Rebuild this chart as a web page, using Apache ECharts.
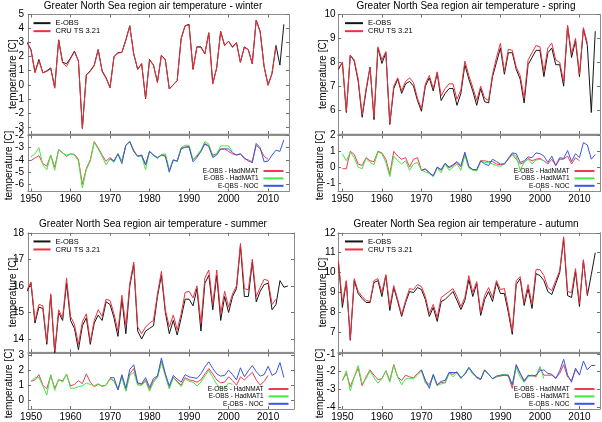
<!DOCTYPE html>
<html><head><meta charset="utf-8">
<script src="https://cdn.jsdelivr.net/npm/echarts@6/dist/echarts.min.js"></script>
<style>html,body{margin:0;padding:0;background:#fff}#c{width:602px;height:422px}</style>
</head><body><div id="c"></div>
<script>
// ---------------- DATA ----------------
const xTickYears = [1950, 1960, 1970, 1980, 1990, 2000, 2010];
const titles = [
  'Greater North Sea region air temperature - winter',
  'Greater North Sea region air temperature - spring',
  'Greater North Sea region air temperature - summer',
  'Greater North Sea region air temperature - autumn'
];
const upperNames = ['E-OBS', 'CRU TS 3.21'];
const lowerNames = ['E-OBS - HadNMAT', 'E-OBS - HadMAT1', 'E-OBS - NOC'];
const yAxisName = 'temperature [C]';

// start years
const eobsStart = 1949, cruStart = 1949, nmatStart = 1950, mat1Start = 1950, nocStart = 1970;

// upper tick labels
const winterUpperTicks = [-3, -2, -1, 0, 1, 2, 3, 4, 5];
const springUpperTicks = [6, 7, 8, 9, 10];
const summerUpperTicks = [14, 15, 16, 17, 18];
const autumnUpperTicks = [7, 8, 9, 10, 11, 12];
// lower tick labels
const winterLowerTicks = [-6, -5, -4, -3, -2];
const springLowerTicks = [-1, 0, 1, 2];
const summerLowerTicks = [0, 1, 2, 3];
const autumnLowerTicks = [-4, -3, -2, -1];

// WINTER
const winterEOBS = [3.0, 2.5, 0.9, 1.8, 0.85, 1.0, 1.2, -0.2, 3.2, 1.6, 1.5, 1.9, 2.4, 1.7, -3.1, 0.7, 1.0, 1.4, 2.5, 1.0, 0.5, -0.2, 2.0, 2.3, 2.3, 3.2, 4.2, 2.2, 1.1, 1.5, -1.0, 1.8, 1.4, 0.2, 2.1, 1.8, -0.3, 0.0, 0.3, 3.3, 4.2, 4.3, 1.1, 2.7, 2.7, 2.2, 3.7, 0.1, 1.2, 3.8, 2.8, 3.1, 2.7, 3.0, 1.6, 2.7, 2.5, 1.5, 4.6, 3.8, 1.3, 0.0, 0.8, 2.8, 1.4, 4.3];
const winterCRU = [3.05, 2.45, 0.85, 1.7, 0.85, 0.95, 1.15, -0.25, 3.15, 1.55, 1.3, 1.85, 2.35, 1.7, -3.1, 0.7, 0.95, 1.35, 2.5, 0.95, 0.45, -0.2, 1.95, 2.25, 2.3, 3.15, 4.15, 2.2, 1.1, 1.5, -0.95, 1.75, 1.4, 0.15, 2.1, 1.75, -0.3, 0.0, 0.3, 3.25, 4.2, 4.25, 1.1, 2.7, 2.65, 2.2, 3.7, 0.05, 1.2, 3.8, 2.8, 3.1, 2.65, 3.0, 1.6, 2.65, 2.5, 1.5, 4.6, 3.75, 1.3, -0.05, 0.8, 2.75];
const winterHadNMAT = [-4.05, -3.85, -3.65, -4.3, -4.5, -3.6, -4.6, -3.15, -3.4, -3.7, -3.5, -3.55, -3.95, -6.0, -4.7, -4.0, -2.5, -3.0, -3.6, -4.1, -3.8, -4.1, -3.5, -4.1, -2.8, -2.5, -3.2, -3.7, -3.6, -4.4, -3.3, -3.6, -3.85, -3.6, -3.6, -4.85, -4.0, -4.1, -3.05, -2.95, -2.9, -4.0, -3.7, -3.3, -2.65, -2.85, -3.6, -3.5, -3.1, -3.1, -3.3, -3.5, -3.6, -3.5, -3.8, -4.1, -4.1, -2.8, -3.1, -3.7, -3.95];
const winterHadMAT1 = [-3.75, -3.5, -3.0, -4.4, -4.8, -3.6, -4.85, -3.15, -3.45, -3.6, -3.5, -3.6, -4.1, -6.3, -4.8, -4.1, -2.55, -3.1, -3.7, -4.4, -3.9, -4.2, -3.5, -4.1, -2.8, -2.45, -3.3, -3.7, -3.7, -4.8, -3.3, -3.6, -3.9, -3.55, -3.5, -4.85, -4.0, -4.1, -3.0, -2.8, -2.8, -4.0, -3.6, -3.2, -2.5, -2.7, -3.7, -3.5, -2.85, -2.85, -2.85, -3.3];
const winterNOC = [-3.9, -4.1, -3.5, -4.3, -2.8, -2.5, -3.3, -3.7, -3.6, -4.4, -3.3, -3.6, -3.8, -3.6, -3.7, -5.0, -4.0, -4.1, -3.1, -2.95, -2.95, -4.15, -3.8, -3.3, -2.7, -2.9, -3.8, -3.6, -3.1, -3.1, -3.1, -3.4, -3.6, -3.5, -3.9, -4.0, -4.25, -2.65, -3.0, -4.15, -4.1, -3.6, -3.2, -3.3, -2.35];

// SPRING
const springEOBS = [7.7, 8.0, 5.9, 8.3, 8.05, 7.2, 5.7, 6.8, 7.8, 5.6, 8.6, 7.95, 8.4, 5.4, 6.9, 7.3, 6.7, 7.1, 7.2, 7.0, 6.4, 5.95, 7.0, 7.35, 6.8, 7.55, 6.4, 6.7, 6.9, 6.9, 6.2, 6.7, 7.9, 7.3, 6.8, 6.2, 6.9, 6.35, 6.3, 7.4, 8.0, 8.6, 7.5, 8.4, 8.4, 7.7, 7.3, 6.3, 7.9, 8.2, 8.5, 8.5, 7.4, 8.4, 8.6, 7.9, 7.9, 7.0, 9.5, 8.2, 8.9, 7.4, 9.4, 8.7, 5.9, 9.3];
const springCRU = [7.75, 8.0, 5.95, 8.3, 8.1, 7.3, 5.8, 6.9, 7.8, 5.7, 8.65, 8.1, 8.45, 5.45, 7.0, 7.35, 6.8, 7.2, 7.35, 7.15, 6.5, 6.05, 7.1, 7.45, 6.9, 7.6, 6.6, 6.9, 7.1, 7.1, 6.45, 6.85, 8.05, 7.45, 6.95, 6.4, 7.0, 6.5, 6.4, 7.5, 8.2, 8.8, 7.6, 8.55, 8.5, 7.8, 7.45, 6.5, 8.1, 8.4, 8.7, 8.65, 7.6, 8.6, 8.8, 8.1, 8.0, 7.2, 9.55, 8.35, 9.0, 7.5, 9.45, 8.8];
const springHadNMAT = [-0.1, -0.1, 1.0, 0.8, 0.2, 0.1, 0.6, 0.4, 0.35, 1.0, 0.9, 0.5, -0.45, 1.0, 0.7, 0.5, 0.6, 0.0, 0.5, 0.6, -0.2, -0.15, -0.35, -0.55, 0.0, -0.2, 0.2, -0.05, 0.1, 0.3, 0.0, 0.85, 0.0, -0.15, -0.2, 0.4, 0.4, 0.35, 0.35, 0.2, 0.15, 0.2, 0.5, 0.8, 0.5, 0.2, 0.3, 0.55, 0.4, 0.5, 0.55, 0.4, 0.2, 0.5, 0.1, 0.5, 0.5, 0.7, 0.2, 0.6, 0.4];
const springHadMAT1 = [0.85, 0.4, 0.95, 0.6, 0.0, -0.1, 0.55, 0.3, 0.15, 0.95, 0.85, 0.3, -0.6, 0.7, 0.4, 0.2, 0.4, -0.2, 0.2, 0.3, -0.2, -0.3, -0.4, -0.6, -0.05, -0.35, 0.2, -0.2, 0.0, 0.2, -0.2, 0.75, -0.05, -0.2, -0.25, 0.35, 0.3, 0.3, 0.2, 0.1, 0.05, 0.2, 0.55, 0.85, 0.7, -0.2, 0.3, 0.5, 0.2, 0.45, 0.5, 0.4];
const springNOC = [-0.2, -0.1, -0.35, -0.55, 0.0, -0.15, 0.25, 0.0, 0.15, 0.35, 0.1, 0.95, 0.05, -0.15, -0.15, 0.4, 0.2, 0.1, 0.5, 0.35, 0.2, 0.2, 0.55, 0.9, 0.85, 0.3, 0.4, 0.65, 0.6, 0.9, 0.85, 0.7, 0.3, 0.7, 0.1, 0.6, 0.55, 1.05, 0.35, 0.85, 0.6, 1.55, 1.4, 0.5, 0.8];

// SUMMER
const summerEOBS = [15.8, 16.1, 14.6, 15.2, 15.15, 13.8, 15.65, 13.45, 15.0, 14.7, 16.1, 14.7, 14.4, 13.6, 14.5, 14.8, 13.8, 14.6, 14.9, 14.7, 15.4, 15.3, 14.8, 14.1, 15.5, 14.2, 16.0, 16.8, 14.3, 14.0, 14.3, 14.4, 14.5, 15.6, 16.4, 15.0, 14.2, 14.7, 14.15, 14.8, 15.5, 15.5, 15.25, 15.9, 14.3, 16.1, 16.4, 15.1, 16.4, 14.7, 15.6, 15.0, 15.6, 15.9, 17.5, 15.6, 15.6, 16.9, 15.4, 15.8, 16.05, 16.1, 15.1, 15.3, 16.2, 15.95, 16.0];
const summerCRU = [15.85, 16.15, 14.7, 15.3, 15.25, 13.9, 15.7, 13.55, 15.1, 14.8, 16.3, 14.85, 14.55, 13.8, 14.65, 14.95, 13.9, 14.7, 15.1, 14.85, 15.5, 15.45, 14.95, 14.3, 15.65, 14.5, 16.1, 16.9, 14.45, 14.2, 14.45, 14.6, 14.7, 15.7, 16.55, 15.1, 14.45, 14.9, 14.35, 14.95, 15.75, 15.8, 15.55, 16.0, 14.6, 16.3, 16.6, 15.3, 16.6, 14.95, 15.8, 15.2, 15.7, 16.0, 17.6, 15.9, 15.85, 17.0, 15.6, 15.95, 16.25, 16.2, 15.3, 15.5];
const summerHadNMAT = [1.25, 1.35, 1.7, 1.0, 0.75, 1.65, 0.8, 1.35, 1.3, 1.7, 0.95, 1.05, 1.3, 1.1, 1.75, 1.2, 0.9, 1.05, 0.95, 1.0, 1.45, 1.3, 0.7, 1.6, 0.65, 1.75, 2.1, 1.1, 1.05, 1.35, 0.7, 1.3, 1.55, 2.6, 1.7, 0.8, 1.55, 1.25, 1.0, 1.5, 1.35, 1.3, 1.2, 1.35, 1.75, 2.1, 1.75, 1.35, 1.15, 1.2, 1.55, 1.3, 1.0, 1.55, 1.35, 1.6, 1.85, 1.35, 1.0, 1.25, 1.65];
const summerHadMAT1 = [1.25, 1.5, 1.5, 0.95, 0.35, 1.7, 0.65, 1.4, 1.2, 1.75, 0.8, 0.8, 0.9, 0.95, 1.15, 1.05, 0.95, 1.1, 0.9, 1.0, 1.4, 1.3, 0.7, 1.5, 0.6, 1.65, 1.85, 1.0, 1.0, 1.25, 0.6, 1.2, 1.5, 2.5, 1.6, 0.75, 1.5, 1.2, 0.9, 1.45, 1.25, 1.2, 0.95, 1.2, 1.6, 2.0, 1.5, 1.05, 0.8, 0.8, 1.15, 1.05];
const summerNOC = [1.5, 1.5, 0.7, 1.7, 0.8, 2.05, 2.35, 1.15, 1.1, 1.5, 0.85, 1.45, 1.6, 2.8, 1.75, 0.95, 1.65, 1.4, 1.2, 1.7, 1.55, 1.5, 1.45, 1.75, 2.2, 2.55, 2.1, 1.75, 1.6, 1.65, 2.0, 1.7, 1.35, 2.15, 1.55, 1.95, 2.3, 1.9, 1.6, 1.7, 2.25, 1.65, 1.8, 2.5, 1.5];

// AUTUMN
const autumnEOBS = [10.5, 8.25, 9.55, 6.6, 9.6, 8.95, 8.7, 8.5, 8.5, 9.5, 9.6, 8.8, 9.85, 8.1, 9.25, 8.55, 7.8, 8.5, 9.05, 9.0, 9.25, 9.15, 8.65, 7.8, 8.25, 7.55, 8.55, 8.65, 8.85, 9.05, 8.6, 8.15, 8.6, 9.65, 8.8, 9.45, 7.85, 8.65, 9.05, 8.55, 9.5, 8.95, 8.95, 8.0, 6.9, 9.4, 9.7, 8.35, 9.2, 8.2, 9.95, 9.85, 9.6, 9.05, 8.9, 9.45, 10.0, 11.7, 8.85, 8.75, 10.05, 8.3, 10.6, 8.85, 9.9, 11.0];
const autumnCRU = [10.6, 8.5, 9.6, 6.65, 9.7, 9.05, 8.8, 8.6, 8.55, 9.6, 9.7, 9.0, 9.9, 8.3, 9.35, 8.65, 7.9, 8.6, 9.2, 9.15, 9.4, 9.3, 8.8, 7.95, 8.4, 7.75, 8.75, 8.9, 9.05, 9.2, 8.8, 8.3, 8.75, 9.85, 9.0, 9.55, 8.0, 8.85, 9.25, 8.75, 9.6, 9.15, 9.2, 8.2, 7.05, 9.6, 9.8, 8.5, 9.4, 8.4, 10.15, 10.15, 9.85, 9.25, 9.1, 9.6, 10.1, 11.8, 9.05, 9.0, 10.2, 8.45, 10.65, 8.9];
const autumnHadNMAT = [-2.5, -2.1, -2.85, -2.3, -1.8, -2.8, -2.3, -1.9, -2.2, -2.45, -2.4, -1.95, -2.5, -1.6, -2.3, -2.5, -2.2, -2.3, -2.35, -2.1, -1.9, -2.5, -2.75, -2.2, -2.8, -2.6, -2.65, -2.1, -2.15, -2.0, -2.35, -2.15, -1.8, -2.1, -2.35, -2.45, -1.9, -2.15, -2.4, -2.3, -2.25, -2.2, -2.25, -2.95, -1.65, -2.1, -2.5, -2.25, -2.2, -2.3, -1.8, -2.2, -2.2, -2.2, -2.35, -2.1, -1.6, -2.3, -2.5, -1.9, -2.15];
const autumnHadMAT1 = [-2.5, -1.95, -3.1, -2.3, -1.65, -2.7, -2.4, -1.95, -2.35, -2.65, -2.4, -1.95, -2.6, -1.65, -2.3, -2.75, -2.4, -2.4, -2.4, -2.2, -1.95, -2.65, -2.8, -2.25, -2.75, -2.7, -2.6, -2.05, -2.3, -2.05, -2.4, -2.1, -1.8, -2.15, -2.3, -2.4, -1.95, -2.15, -2.4, -2.3, -2.2, -2.15, -2.2, -2.75, -1.75, -2.3, -2.6, -2.3, -2.2, -2.25, -1.7, -2.4];
const autumnNOC = [-1.9, -2.5, -2.95, -2.15, -2.75, -2.55, -2.5, -2.05, -2.05, -2.05, -2.35, -2.15, -1.75, -2.05, -2.3, -2.45, -1.9, -2.15, -2.4, -2.25, -2.2, -2.2, -2.2, -2.75, -1.6, -2.1, -2.55, -2.2, -2.25, -2.2, -1.95, -1.9, -2.1, -2.15, -2.4, -1.95, -1.3, -2.2, -2.6, -1.8, -2.2, -1.4, -1.9, -1.65, -1.65];

// ---------------- LAYOUT / STYLE ----------------
const FONT = '"Liberation Sans", Arial, Helvetica, sans-serif';
const W = 602;
const COL = { eobs: '#151515', cru: '#f0303c', nmat: '#f03a52', mat1: '#44e844', noc: '#3a56e0' };
const UP_H = 119.5, LOW_H = 56;

const panels = [
  { left: 28, width: 261, xMin: 1949.24, xMax: 2015.3, upTop: 14.5, lowTop: 135.5, titleX: 153, titleY: 6.5, nameUX: 13, nameLX: 9.5, labMargin: 4, legL: 33.5, legW: 17,
    upMin: -3.5, upMax: 5, upTicks: winterUpperTicks, lowMin: -6.58, lowMax: -2.0, lowTicks: winterLowerTicks,
    s: [winterEOBS, winterCRU, winterHadNMAT, winterHadMAT1, winterNOC] },
  { left: 338, width: 262, xMin: 1948.89, xMax: 2015.2, upTop: 14.5, lowTop: 135.5, titleX: 466, titleY: 6.5, nameUX: 323.5, nameLX: 320.5, labMargin: 2.5, legL: 345, legW: 18,
    upMin: 5, upMax: 10, upTicks: springUpperTicks, lowMin: -1.54, lowMax: 2.0, lowTicks: springLowerTicks,
    s: [springEOBS, springCRU, springHadNMAT, springHadMAT1, springNOC] },
  { left: 28, width: 266, xMin: 1949.24, xMax: 2016.55, upTop: 232.8, lowTop: 353.5, titleX: 153, titleY: 224.5, nameUX: 13, nameLX: 9.5, labMargin: 4, legL: 33.5, legW: 17,
    upMin: 13.5, upMax: 18, upTicks: summerUpperTicks, lowMin: -0.58, lowMax: 3.1, lowTicks: summerLowerTicks,
    s: [summerEOBS, summerCRU, summerHadNMAT, summerHadMAT1, summerNOC] },
  { left: 338, width: 262, xMin: 1948.89, xMax: 2015.2, upTop: 232.8, lowTop: 353.5, titleX: 466, titleY: 224.5, nameUX: 323.5, nameLX: 320.5, labMargin: 2.5, legL: 345, legW: 18,
    upMin: 6, upMax: 12, upTicks: autumnUpperTicks, lowMin: -4.12, lowMax: -0.97, lowTicks: autumnLowerTicks,
    s: [autumnEOBS, autumnCRU, autumnHadNMAT, autumnHadMAT1, autumnNOC] }
];

const grids = [], xAxes = [], yAxes = [], series = [], legends = [], graphics = [];
const lineAx = { show: true, lineStyle: { color: '#8c8c8c', width: 1 } };
const tickSt = { color: '#707070', width: 1 };
const plainNum = v => String(Math.round(v * 100) / 100);

function pairs(start, vals) { return vals.map((v, i) => [start + i, v]); }

function addGrid(p, top, height, yMin, yMax, yTicks, isLower) {
  const g = grids.length;
  grids.push({ left: p.left, top: top, width: p.width, height: height, containLabel: false, show: false });
  [['bottom', isLower], ['top', false]].forEach(([pos, lab]) => {
    xAxes.push({ gridIndex: g, type: 'value', position: pos, min: p.xMin, max: p.xMax,
      axisLine: Object.assign({ onZero: false }, lineAx),
      axisTick: { show: true, inside: true, length: 3, lineStyle: tickSt, customValues: xTickYears },
      axisLabel: { show: lab, customValues: xTickYears, formatter: plainNum, margin: 3, fontSize: 10, color: '#000', fontFamily: FONT },
      splitLine: { show: false } });
  });
  [['left', true], ['right', false]].forEach(([pos, lab]) => {
    yAxes.push({ gridIndex: g, type: 'value', position: pos, min: yMin, max: yMax,
      axisLine: Object.assign({ onZero: false }, lineAx),
      axisTick: { show: true, inside: true, length: 3, lineStyle: tickSt, customValues: yTicks },
      axisLabel: { show: lab, customValues: yTicks, formatter: plainNum, margin: p.labMargin, fontSize: 10, color: '#000', fontFamily: FONT },
      splitLine: { show: false } });
  });
  return g;
}

function mkLine(name, start, vals, g, color, z) {
  return { type: 'line', name: name, xAxisIndex: g * 2, yAxisIndex: g * 2, data: pairs(start, vals),
    symbol: 'none', showSymbol: false, clip: true, silent: true, animation: false, z: z,
    lineStyle: { color: color, width: 1 }, itemStyle: { color: color } };
}

panels.forEach((p, i) => {
  const gu = addGrid(p, p.upTop, UP_H, p.upMin, p.upMax, p.upTicks, false);
  const gl = addGrid(p, p.lowTop, LOW_H, p.lowMin, p.lowMax, p.lowTicks, true);
  series.push(mkLine(upperNames[0], eobsStart, p.s[0], gu, COL.eobs, 2));
  series.push(mkLine(upperNames[1], cruStart, p.s[1], gu, COL.cru, 3));
  series.push(mkLine(lowerNames[0], nmatStart, p.s[2], gl, COL.nmat, 2));
  series.push(mkLine(lowerNames[1], mat1Start, p.s[3], gl, COL.mat1, 3));
  series.push(mkLine(lowerNames[2], nocStart, p.s[4], gl, COL.noc, 4));

  legends.push({ data: upperNames, orient: 'vertical', left: p.legL, top: p.upTop + 4.65, padding: 0, itemGap: 0,
    itemWidth: p.legW, itemHeight: 2, icon: 'rect', selectedMode: false,
    textStyle: { fontSize: 7.5, lineHeight: 7.7, color: '#000', fontFamily: FONT } });
  legends.push({ data: lowerNames, orient: 'vertical', align: 'right', right: W - (p.left + p.width - 5.5), top: p.lowTop + 31.8, padding: 0, itemGap: 0,
    itemWidth: 20, itemHeight: 2, icon: 'rect', selectedMode: false,
    textStyle: { fontSize: 6.5, lineHeight: 7.4, color: '#000', fontFamily: FONT } });

  graphics.push({ type: 'rect', silent: true, z: 0, shape: { x: p.left, y: p.upTop + UP_H - 0.5, width: p.width, height: p.lowTop - (p.upTop + UP_H) + 1 },
    style: { fill: '#c4c4c4' } });
  graphics.push({ type: 'text', silent: true, x: p.titleX, y: p.titleY,
    style: { text: titles[i], fontSize: 10, fontFamily: FONT, fill: '#000', align: 'center', verticalAlign: 'middle' } });
  graphics.push({ type: 'text', silent: true, x: p.nameUX, y: p.upTop + UP_H / 2, rotation: Math.PI / 2,
    style: { text: yAxisName, fontSize: 10, fontFamily: FONT, fill: '#000', align: 'center', verticalAlign: 'middle' } });
  graphics.push({ type: 'text', silent: true, x: p.nameLX, y: p.lowTop + 30, rotation: Math.PI / 2,
    style: { text: yAxisName, fontSize: 10, fontFamily: FONT, fill: '#000', align: 'center', verticalAlign: 'middle' } });
});

const chart = echarts.init(document.getElementById('c'), null, { renderer: 'canvas' });
chart.setOption({
  animation: false,
  backgroundColor: '#fff',
  grid: grids, xAxis: xAxes, yAxis: yAxes, series: series, legend: legends, graphic: graphics
});
</script></body></html>
